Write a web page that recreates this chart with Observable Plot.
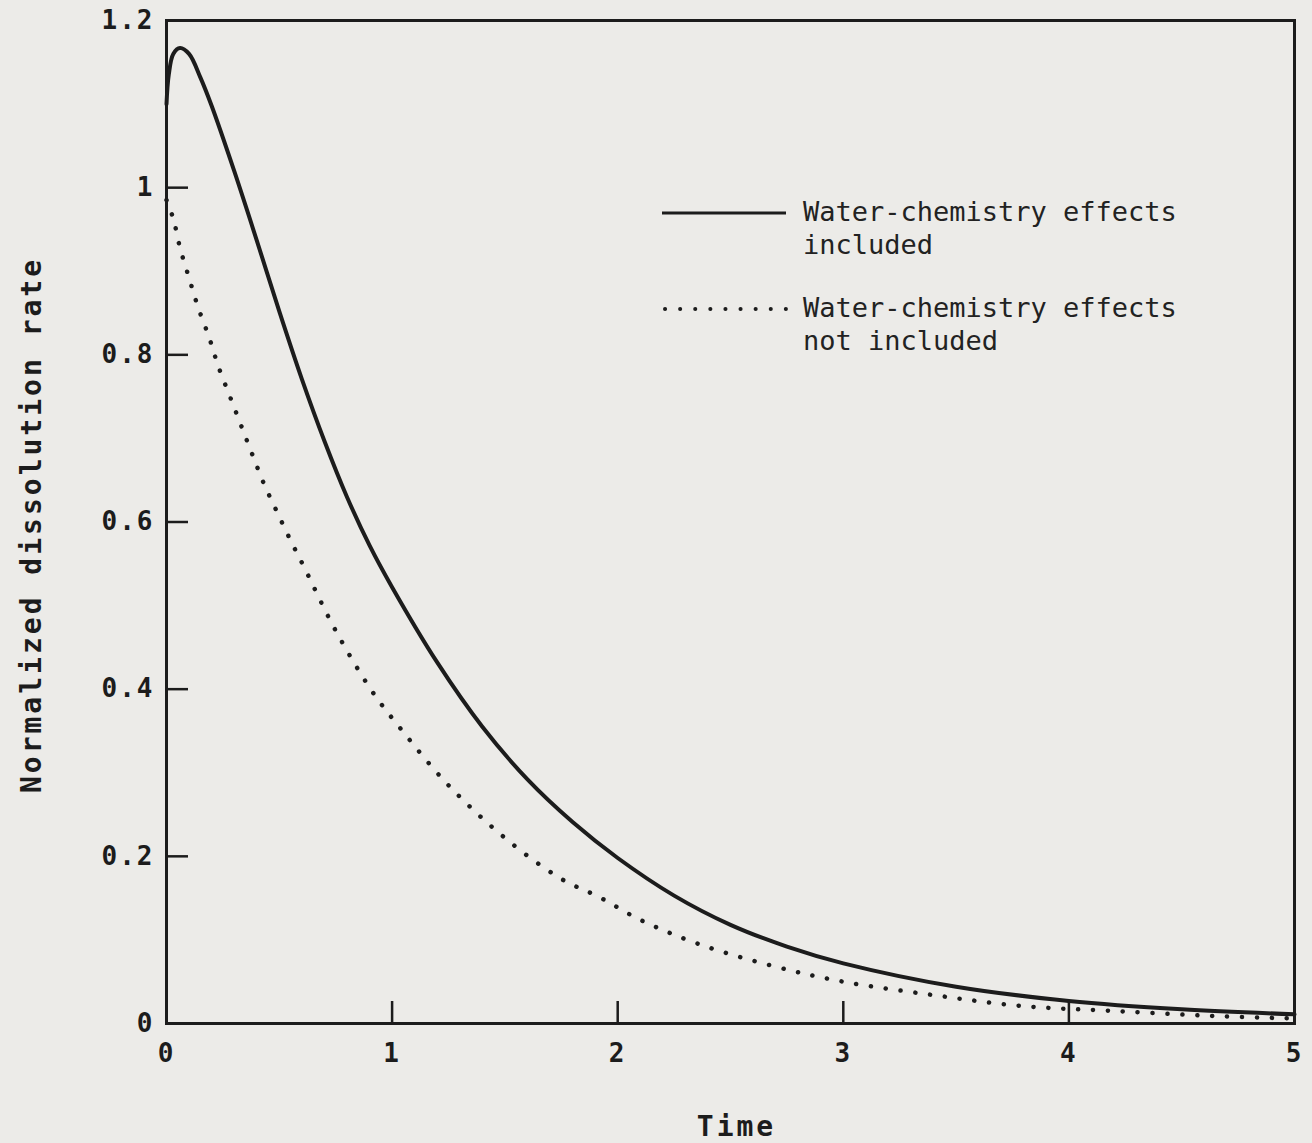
<!DOCTYPE html>
<html>
<head>
<meta charset="utf-8">
<script src="https://cdn.jsdelivr.net/npm/d3@7"></script>
<script src="https://cdn.jsdelivr.net/npm/@observablehq/plot@0.6"></script>
<style>
  html, body { margin: 0; padding: 0; background: #ecebe8; }
  #wrap { position: relative; width: 1312px; height: 1143px; overflow: hidden; }
  #wrap svg { display: block; }
  g[aria-label="x-axis tick label"] text, g[aria-label="y-axis tick label"] text { letter-spacing: 2px; }
  g[aria-label="text"] text { letter-spacing: 3px; }
  .legend { position: absolute; font-family: "DejaVu Sans Mono", monospace; font-size: 27px; color: #222; }
  .legend .txt { position: absolute; left: 143px; top: 0; line-height: 33px; white-space: nowrap; }
  .legend svg { position: absolute; left: 0; }
</style>
</head>
<body>
<div id="wrap"></div>
<script>
// ---- data ----
const xTicks = [0, 1, 2, 3, 4, 5];
const yTicks = [0, 0.2, 0.4, 0.6, 0.8, 1, 1.2];
const yTickLabels = ["0", "0.2", "0.4", "0.6", "0.8", "1", "1.2"];
const xLabel = "Time";
const yLabel = "Normalized dissolution rate";
const seriesNames = [["Water-chemistry effects", "included"], ["Water-chemistry effects", "not included"]];

const timeIncluded = [0, 0.01, 0.03, 0.06, 0.1, 0.15, 0.2, 0.3, 0.4, 0.5, 0.6, 0.7, 0.8, 0.9, 1.0, 1.2, 1.4, 1.6, 1.8, 2.0, 2.25, 2.5, 2.75, 3.0, 3.5, 4.0, 4.5, 5.0];
const rateIncluded = [1.10, 1.135, 1.16, 1.167, 1.16, 1.132, 1.098, 1.02, 0.937, 0.852, 0.771, 0.697, 0.630, 0.572, 0.522, 0.432, 0.355, 0.292, 0.241, 0.198, 0.153, 0.118, 0.092, 0.072, 0.044, 0.027, 0.017, 0.011];

const timeNotIncluded = [0, 0.03, 0.06, 0.1, 0.14, 0.19, 0.23, 0.28, 0.33, 0.38, 0.43, 0.49, 0.55, 0.61, 0.75, 0.91, 1.04, 1.25, 1.5, 1.75, 1.92, 2.1, 2.36, 2.7, 3.0, 3.4, 3.79, 4.2, 4.64, 5.0];
const rateNotIncluded = [0.985, 0.963, 0.928, 0.892, 0.857, 0.82, 0.786, 0.751, 0.716, 0.681, 0.647, 0.612, 0.578, 0.546, 0.47, 0.398, 0.352, 0.285, 0.222, 0.173, 0.151, 0.124, 0.095, 0.068, 0.05, 0.034, 0.021, 0.015, 0.009, 0.006];

// ---- build ----
const ink = "#1c1c1c";
const included = timeIncluded.map((t, i) => ({t, v: rateIncluded[i]}));
const notIncluded = timeNotIncluded.map((t, i) => ({t, v: rateNotIncluded[i]}));
const fontFam = "DejaVu Sans Mono, monospace";

const chart = Plot.plot({
  width: 1312,
  height: 1143,
  marginLeft: 166,
  marginRight: 18,
  marginTop: 20,
  marginBottom: 120,
  style: {background: "transparent", color: ink},
  x: {domain: [0, 5]},
  y: {domain: [0, 1.2]},
  marks: [
    Plot.axisX(xTicks, {tickSize: -22, tickFormat: () => "", strokeWidth: 2.5, stroke: ink, label: null}),
    Plot.axisX(xTicks, {tickSize: 0, tickPadding: 20, fontSize: 26, fontWeight: "bold", fontFamily: fontFam, fill: ink, label: null, tickFormat: d => String(d)}),
    Plot.axisY(yTicks, {tickSize: -22, tickFormat: () => "", strokeWidth: 2.5, stroke: ink, label: null}),
    Plot.axisY(yTicks, {tickSize: 0, tickPadding: 12, fontSize: 26, fontWeight: "bold", fontFamily: fontFam, fill: ink, label: null,
      tickFormat: d => yTickLabels[yTicks.indexOf(d)]}),
    Plot.frame({stroke: ink, strokeWidth: 3}),
    Plot.line(notIncluded, {x: "t", y: "v", curve: "catmull-rom", stroke: ink, strokeWidth: 4.5,
      strokeDasharray: "0.1 14.8", strokeLinecap: "round"}),
    Plot.line(included, {x: "t", y: "v", curve: "catmull-rom", stroke: ink, strokeWidth: 4}),
    Plot.text([xLabel], {frameAnchor: "bottom", dy: 112, dx: 6, textAnchor: "middle", fontSize: 28, fontWeight: "bold", fontFamily: fontFam, fill: ink}),
    Plot.text([yLabel], {frameAnchor: "left", dx: -134, dy: 3, rotate: -90, textAnchor: "middle", fontSize: 28, fontWeight: "bold", fontFamily: fontFam, fill: ink})
  ]
});

const wrap = document.getElementById("wrap");
wrap.appendChild(chart);

// legend (inside the frame, top right)
function addLegend(top, lines, dotted) {
  const d = document.createElement("div");
  d.className = "legend";
  d.style.left = "660px";
  d.style.top = top + "px";
  const svgNS = "http://www.w3.org/2000/svg";
  const s = document.createElementNS(svgNS, "svg");
  s.setAttribute("width", "128");
  s.setAttribute("height", "10");
  s.style.top = "13px";
  const l = document.createElementNS(svgNS, "line");
  l.setAttribute("x1", dotted ? "5" : "2");
  l.setAttribute("x2", "126");
  l.setAttribute("y1", "5");
  l.setAttribute("y2", "5");
  l.setAttribute("stroke", ink);
  if (dotted) {
    l.setAttribute("stroke-width", "4");
    l.setAttribute("stroke-dasharray", "0.1 15");
    l.setAttribute("stroke-linecap", "round");
  } else {
    l.setAttribute("stroke-width", "3");
  }
  s.appendChild(l);
  d.appendChild(s);
  const t = document.createElement("div");
  t.className = "txt";
  t.innerHTML = lines.join("<br>");
  d.appendChild(t);
  wrap.appendChild(d);
}
addLegend(195, seriesNames[0], false);
addLegend(291, seriesNames[1], true);
</script>
</body>
</html>
